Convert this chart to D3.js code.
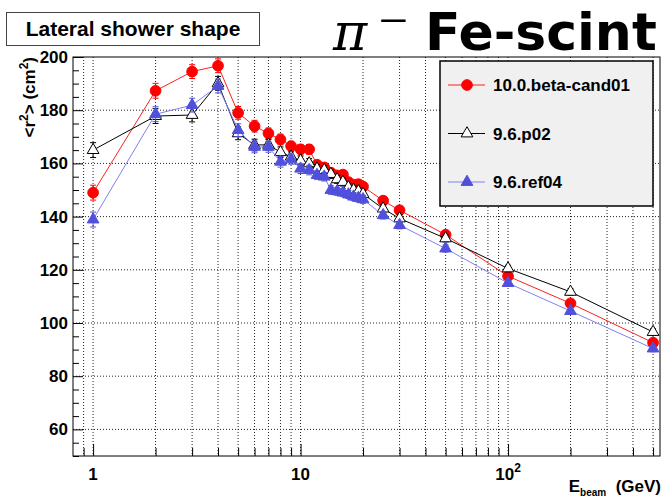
<!DOCTYPE html>
<html>
<head>
<meta charset="utf-8">
<script src="https://cdn.jsdelivr.net/npm/d3@7"></script>
<style>
  body { margin: 0; background: #fff; }
  text { font-family: "Liberation Sans", Arial, sans-serif; font-weight: bold; }
</style>
</head>
<body>
<div id="chart"></div>
<script>
// beam energies (GeV)
var energies = [1, 2, 3, 4, 5, 6, 7, 8, 9, 10, 11, 12, 13, 14, 15, 16, 17, 18, 19, 20, 25, 30, 50, 100, 200, 500];

// <r^2> values per version
var betaCand01 = [149.0, 187.3, 194.5, 196.7, 179.0, 174.0, 171.3, 169.0, 166.5, 165.3, 165.3, 159.5, 158.5, 156.5, 155.5, 155.8, 153.0, 152.0, 152.2, 151.3, 146.0, 142.4, 133.2, 117.6, 107.4, 92.6];
var p02 = [165.0, 177.8, 178.2, 190.1, 171.3, 166.9, 167.0, 164.2, 162.5, 161.0, 160.0, 158.0, 157.5, 156.0, 154.0, 153.0, 151.0, 150.0, 149.5, 148.5, 143.0, 139.3, 131.8, 120.5, 111.7, 96.6];
var ref04 = [138.9, 178.5, 181.9, 189.1, 172.5, 166.2, 166.2, 160.6, 161.5, 158.0, 157.5, 155.6, 155.0, 150.0, 149.5, 149.0, 148.3, 147.5, 147.0, 146.5, 140.5, 136.8, 128.0, 115.0, 104.5, 90.4];
var errs = [2.8, 2.8, 2.6, 2.6, 2.4, 2.2, 2.0, 2.0, 1.8, 1.8, 1.8, 1.6, 1.6, 1.6, 1.5, 1.5, 1.5, 1.5, 1.5, 1.5, 1.4, 1.4, 1.3, 1.2, 1.2, 1.2];

var seriesNames = ["10.0.beta-cand01", "9.6.p02", "9.6.ref04"];

var yTicks = [60, 80, 100, 120, 140, 160, 180, 200];
var xTicks = [0.9, 1, 2, 3, 4, 5, 6, 7, 8, 9, 10, 20, 30, 40, 50, 60, 70, 80, 90, 100, 200, 300, 400, 500];
var xLabels = [1, 10, 100];

var width = 664, height = 500;
var frame = {left: 73, right: 660, top: 57, bottom: 456};

var svg = d3.select("#chart").append("svg")
  .attr("width", width)
  .attr("height", height);

var x = d3.scaleLog().domain([0.8, 540]).range([frame.left, frame.right]);
var y = d3.scaleLinear().domain([50, 200]).range([frame.bottom, frame.top]);

// grid
svg.append("g").selectAll("line")
  .data(xTicks)
  .enter().append("line")
    .attr("x1", d => x(d)).attr("x2", d => x(d))
    .attr("y1", frame.top).attr("y2", frame.bottom)
    .attr("stroke", "#222").attr("stroke-width", 1)
    .attr("stroke-dasharray", "1,2");
svg.append("g").selectAll("line")
  .data(yTicks.filter(d => d < 200))
  .enter().append("line")
    .attr("x1", frame.left).attr("x2", frame.right)
    .attr("y1", d => y(d)).attr("y2", d => y(d))
    .attr("stroke", "#222").attr("stroke-width", 1)
    .attr("stroke-dasharray", "1,2");

// y axis (ticks inside frame)
var yAxis = d3.axisRight(y)
  .tickValues(d3.range(50, 201, 5))
  .tickSize(6)
  .tickFormat("");
var yg = svg.append("g")
  .attr("transform", "translate(" + frame.left + ",0)")
  .call(yAxis);
yg.select(".domain").remove();
yg.selectAll(".tick line")
  .attr("x2", d => d % 20 == 0 ? 10 : 6)
  .attr("stroke", "#000");
svg.append("g").selectAll("text")
  .data(yTicks)
  .enter().append("text")
    .attr("x", frame.left - 5)
    .attr("y", d => y(d) + 6)
    .attr("text-anchor", "end")
    .style("font-size", "17px")
    .text(d => d);

// x axis (ticks inside frame)
var xAxis = d3.axisTop(x)
  .tickValues(xTicks)
  .tickSize(8)
  .tickFormat("");
var xg = svg.append("g")
  .attr("transform", "translate(0," + frame.bottom + ")")
  .call(xAxis);
xg.select(".domain").remove();
xg.selectAll(".tick line")
  .attr("y2", d => xLabels.indexOf(d) >= 0 ? -12 : -8)
  .attr("stroke", "#000");

var xl = svg.append("g").selectAll("text")
  .data(xLabels)
  .enter().append("text")
    .attr("x", d => x(d))
    .attr("y", 480)
    .attr("text-anchor", "middle")
    .style("font-size", "17px");
xl.each(function (d) {
  var t = d3.select(this);
  if (d == 100) {
    t.append("tspan").text("10");
    t.append("tspan").attr("dy", -8).style("font-size", "12px").text("2");
  } else {
    t.text(d);
  }
});

// frame
svg.append("rect")
  .attr("x", frame.left).attr("y", frame.top)
  .attr("width", frame.right - frame.left)
  .attr("height", frame.bottom - frame.top)
  .attr("fill", "none")
  .attr("stroke", "#000")
  .attr("stroke-width", 1);

// axis titles
var yt = svg.append("text")
  .attr("transform", "translate(35," + frame.top + ") rotate(-90)")
  .attr("text-anchor", "end")
  .style("font-size", "17px");
yt.append("tspan").text("<r");
yt.append("tspan").attr("dy", -7).style("font-size", "12px").text("2");
yt.append("tspan").attr("dy", 7).text("> (cm");
yt.append("tspan").attr("dy", -7).style("font-size", "12px").text("2");
yt.append("tspan").attr("dy", 7).text(")");

var xt = svg.append("text")
  .attr("x", 661)
  .attr("y", 492)
  .attr("text-anchor", "end")
  .style("font-size", "17px");
xt.append("tspan").text("E");
xt.append("tspan").attr("dy", 4).style("font-size", "10px").text("beam");
xt.append("tspan").attr("dy", -4).attr("xml:space", "preserve").text("  (GeV)");

// series
var series = [
  {name: seriesNames[0], values: betaCand01, line: "#ff2020", fill: "#ff0000", stroke: "#ff0000", shape: "circle"},
  {name: seriesNames[1], values: p02, line: "#000", fill: "#fff", stroke: "#000", shape: "tri"},
  {name: seriesNames[2], values: ref04, line: "#8080f0", fill: "#5050dc", stroke: "#5050dc", shape: "tri"}
];

var line = d3.line()
  .x((d, i) => x(energies[i]))
  .y(d => y(d));

var circle = d3.symbol().type(d3.symbolCircle).size(90);
var tri = d3.symbol().type(d3.symbolTriangle).size(60);

function drawMarker(g, s) {
  return g.append("path")
    .attr("d", s.shape == "circle" ? circle() : tri())
    .attr("fill", s.fill)
    .attr("stroke", s.stroke)
    .attr("stroke-width", 1);
}

series.forEach(function (s) {
  var g = svg.append("g");
  g.append("path")
    .datum(s.values)
    .attr("d", line)
    .attr("fill", "none")
    .attr("stroke", s.line)
    .attr("stroke-width", 1);
  // error bars
  g.selectAll(".err")
    .data(s.values)
    .enter().append("path")
      .attr("class", "err")
      .attr("d", function (d, i) {
        var cx = x(energies[i]);
        var y1 = y(d + errs[i]), y2 = y(d - errs[i]);
        return "M" + cx + "," + y1 + "V" + y2 +
          "M" + (cx - 3) + "," + y1 + "H" + (cx + 3) +
          "M" + (cx - 3) + "," + y2 + "H" + (cx + 3);
      })
      .attr("stroke", s.stroke)
      .attr("fill", "none");
  s.values.forEach(function (d, i) {
    drawMarker(g, s)
      .attr("transform", "translate(" + x(energies[i]) + "," + y(d) + ")");
  });
});

// legend
var legend = svg.append("g");
legend.append("rect")
  .attr("x", 440).attr("y", 61)
  .attr("width", 213).attr("height", 145)
  .attr("fill", "#f0f0f0")
  .attr("stroke", "#000")
  .attr("stroke-width", 1.5);
series.forEach(function (s, i) {
  var ly = 85 + i * 48.5;
  legend.append("line")
    .attr("x1", 448).attr("x2", 485)
    .attr("y1", ly).attr("y2", ly)
    .attr("stroke", s.line);
  drawMarker(legend, s).attr("transform", "translate(467," + ly + ")");
  legend.append("text")
    .attr("x", 493).attr("y", ly + 6)
    .style("font-size", "17px")
    .text(s.name);
});

// title box
svg.append("rect")
  .attr("x", 6.5).attr("y", 12.5)
  .attr("width", 253).attr("height", 33)
  .attr("fill", "#fff")
  .attr("stroke", "#444");
svg.append("text")
  .attr("x", 133).attr("y", 36)
  .attr("text-anchor", "middle")
  .style("font-size", "21px")
  .text("Lateral shower shape");

// particle / material label
svg.append("text")
  .attr("x", 333).attr("y", 50)
  .style("font-family", "'DejaVu Serif', serif")
  .style("font-style", "italic")
  .style("font-weight", "normal")
  .style("font-size", "52px")
  .text("π");
svg.append("text")
  .attr("transform", "translate(377,30) scale(1.3,1)")
  .style("font-family", "'DejaVu Sans', sans-serif")
  .style("font-weight", "normal")
  .style("font-size", "30px")
  .text("−");
svg.append("text")
  .attr("x", 425).attr("y", 50)
  .style("font-family", "'DejaVu Sans', sans-serif")
  .style("font-size", "52px")
  .text("Fe-scint");
</script>
</body>
</html>
